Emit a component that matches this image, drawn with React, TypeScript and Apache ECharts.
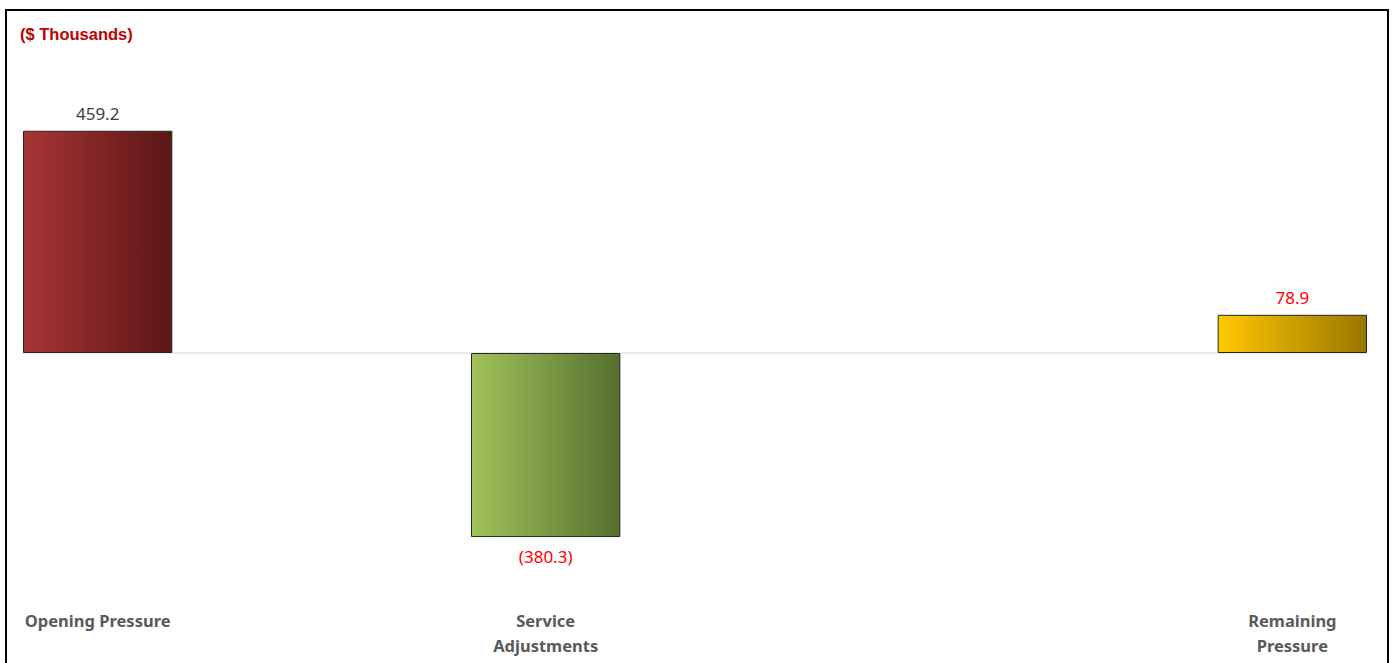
import React, { useEffect, useRef } from "react";
import * as echarts from "echarts";

const categories = [
  "Opening\u00a0Pressure",
  "",
  "",
  "Service\nAdjustments",
  "",
  "",
  "",
  "",
  "Remaining\nPressure",
];
const values: (number | null)[] = [459.2, null, null, -380.3, null, null, null, null, 78.9];
const gradientStops: ([string, string] | null)[] = [
  ["#A83535", "#5A1616"],
  null,
  null,
  ["#A2C25B", "#55702E"],
  null,
  null,
  null,
  null,
  ["#FFC800", "#9A7600"],
];
const labelColors: (string | null)[] = ["#404040", null, null, "#FF0000", null, null, null, null, "#FF0000"];

function fmt(v: number): string {
  const s = Math.abs(v).toFixed(1);
  return v < 0 ? `(${s})` : s;
}

export default function App() {
  const ref = useRef<HTMLDivElement>(null);
  useEffect(() => {
    if (!ref.current) return;
    const chart = echarts.init(ref.current, undefined, { renderer: "svg" });
    const data = values.map((v, i) => {
      if (v === null) return null;
      const g = gradientStops[i]!;
      return {
        value: v,
        itemStyle: {
          color: new echarts.graphic.LinearGradient(0, 0, 1, 0, [
            { offset: 0, color: g[0] },
            { offset: 1, color: g[1] },
          ]),
          borderColor: "#262626",
          borderWidth: 1,
        },
        label: {
          show: true,
          position: v < 0 ? "bottom" : "top",
          distance: v < 0 ? 11 : 9,
          color: labelColors[i]!,
          fontFamily: "Noto Sans",
          fontSize: 17,
          formatter: () => fmt(v),
        },
      };
    });
    chart.setOption({
      animation: false,
      backgroundColor: "#ffffff",
      title: {
        text: "($ Thousands)",
        left: 15,
        top: 20,
        textStyle: {
          color: "#C00000",
          fontFamily: "Liberation Sans",
          fontWeight: "bold",
          fontSize: 16.5,
        },
      },
      grid: { left: 23, right: 31, top: 111, height: 484, containLabel: false },
      xAxis: {
        type: "category",
        data: categories,
        axisLine: { show: false, onZero: false },
        axisTick: { show: false },
        axisLabel: {
          interval: 0,
          margin: 13,
          color: "#5A5A5A",
          fontFamily: "Noto Sans",
          fontWeight: "bold",
          fontSize: 16.5,
          lineHeight: 25,
          verticalAlign: "top",
        },
      },
      yAxis: {
        type: "value",
        min: -500,
        max: 500,
        show: false,
        splitLine: { show: false },
      },
      series: [
        {
          type: "bar",
          data,
          barCategoryGap: "0%",
          markLine: {
            silent: true,
            symbol: "none",
            label: { show: false },
            lineStyle: { color: "#E3E3E3", width: 1.5, type: "solid" },
            data: [{ yAxis: 0 }],
            z: 1,
          },
        },
      ],
    });
    return () => chart.dispose();
  }, []);
  return (
    <div style={{ position: "fixed", left: 0, top: 0, width: 1398, height: 663, background: "#fff" }}>
      <div ref={ref} style={{ position: "absolute", left: 0, top: 0, width: 1398, height: 663 }} />
      <div
        style={{
          position: "absolute",
          left: 5,
          top: 9,
          width: 1380,
          height: 680,
          border: "2px solid #000",
          pointerEvents: "none",
        }}
      />
    </div>
  );
}
